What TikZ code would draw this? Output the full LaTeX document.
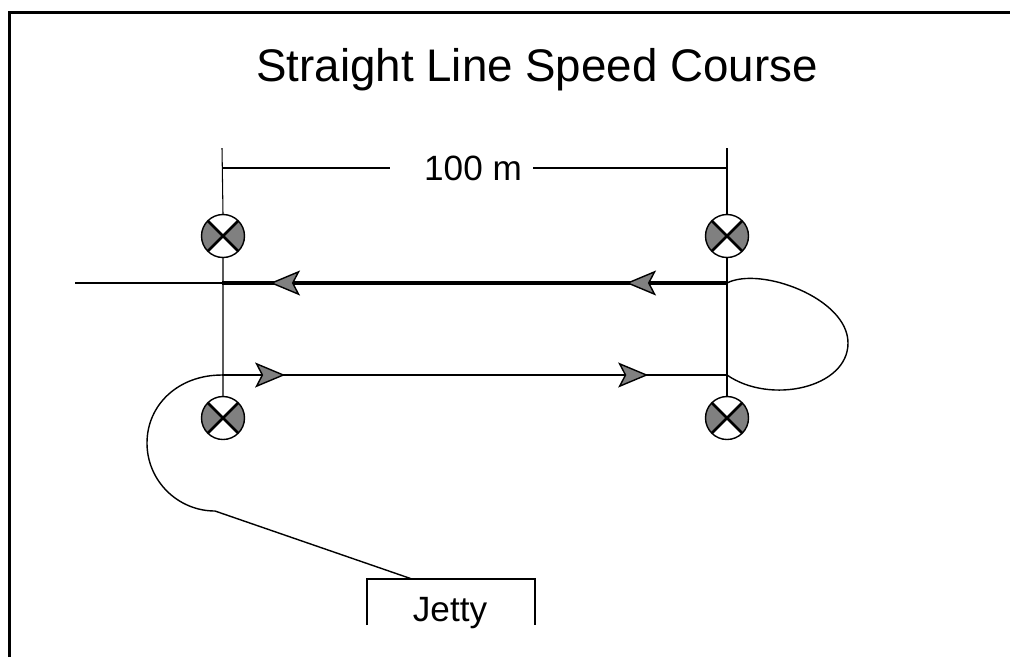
\documentclass[tikz,border=0pt]{standalone}
\usepackage{fontspec}
\setmainfont{Liberation Sans}
\usetikzlibrary{arrows.meta,decorations.markings}
\definecolor{buoygray}{RGB}{128,128,128}
\tikzset{
  buoy/.style={circle, draw, line width=0.8pt, minimum size=0.86cm, inner sep=0pt,
    path picture={
      \fill[buoygray] (path picture bounding box.center) -- (path picture bounding box.north west) -- (path picture bounding box.south west) -- cycle;
      \fill[buoygray] (path picture bounding box.center) -- (path picture bounding box.north east) -- (path picture bounding box.south east) -- cycle;
      \draw[line width=1.5pt] (path picture bounding box.north west) -- (path picture bounding box.south east)
                              (path picture bounding box.north east) -- (path picture bounding box.south west);}},
  flowtip/.tip={Stealth[length=0.6cm, width=0.5cm, inset=0.13cm, fill=buoygray, line width=0.8pt]},
  course/.style={postaction={decorate}, decoration={markings,
    mark=at position #1 with {\arrow{flowtip}}}},
  lbl/.style={font=\fontsize{20}{24}\selectfont, inner sep=2pt}
}
\begin{document}
\begin{tikzpicture}[x=0.02cm, y=-0.02cm]
\useasboundingbox (0,0) rectangle (1010,657);
%\draw[help lines, step=50] (0,0) grid (1010,657);
\draw[line width=1.7pt] (9.5,657) -- (9.5,12) -- (1010,12);
\node[font=\fontsize{26}{30}\selectfont] (title) at (537,70) {Straight Line Speed Course};

% markers
\node[buoy] (b1) at (223,236) {};
\node[buoy] (b2) at (727,236) {};
\node[buoy] (b3) at (223,418) {};
\node[buoy] (b4) at (727,418) {};
\coordinate (ltop) at (222,148);
\coordinate (rtop) at (727,148);
\coordinate (start) at (75,283);
\coordinate (lin) at (222,283);
\coordinate (rin) at (727,283);
\coordinate (lout) at (222,375);
\coordinate (rout) at (727,375);

% gate lines
\draw[line width=0.6pt] (ltop) -- (b1.north) (b1.south) -- (b3.north);
\draw[line width=1.1pt] (rtop) -- (b2.north) (b2.south) -- (b4.north);

% 100 m
\node[lbl] (dist) at (473,168) {100 m};
\draw[line width=0.6pt] (222,168) -- (390,168);
\draw[line width=0.6pt] (533,168) -- (727,168);
\draw[line width=1.2pt] (712,168) -- (727,168);

% course
\draw[line width=0.6pt] (start) -- (lin);
\draw[line width=1.8pt] (rin) -- (lin);
\path[course=0.2] (rin) -- (lin);
\path[course=0.905] (rin) -- (lin);
\draw[line width=1.1pt] (lout) -- (rout);
\path[course=0.125] (lout) -- (rout);
\path[course=0.844] (lout) -- (rout);
\draw[line width=0.8pt] (rin) .. controls (760,266) and (848,298) .. (848,343)
       .. controls (848,388) and (770,405) .. (rout);

% jetty
\node[lbl] (jetty) at (450,613) {Jetty};
\coordinate (pier) at (412,579);
\draw[line width=0.8pt] (lout) .. controls (178,375) and (147,405) .. (147,443)
       .. controls (147,481) and (178,511) .. (215,511) -- (pier);
\draw[line width=1pt] (367,625) -- (367,579) -- (535,579) -- (535,625);
\end{tikzpicture}
\end{document}
